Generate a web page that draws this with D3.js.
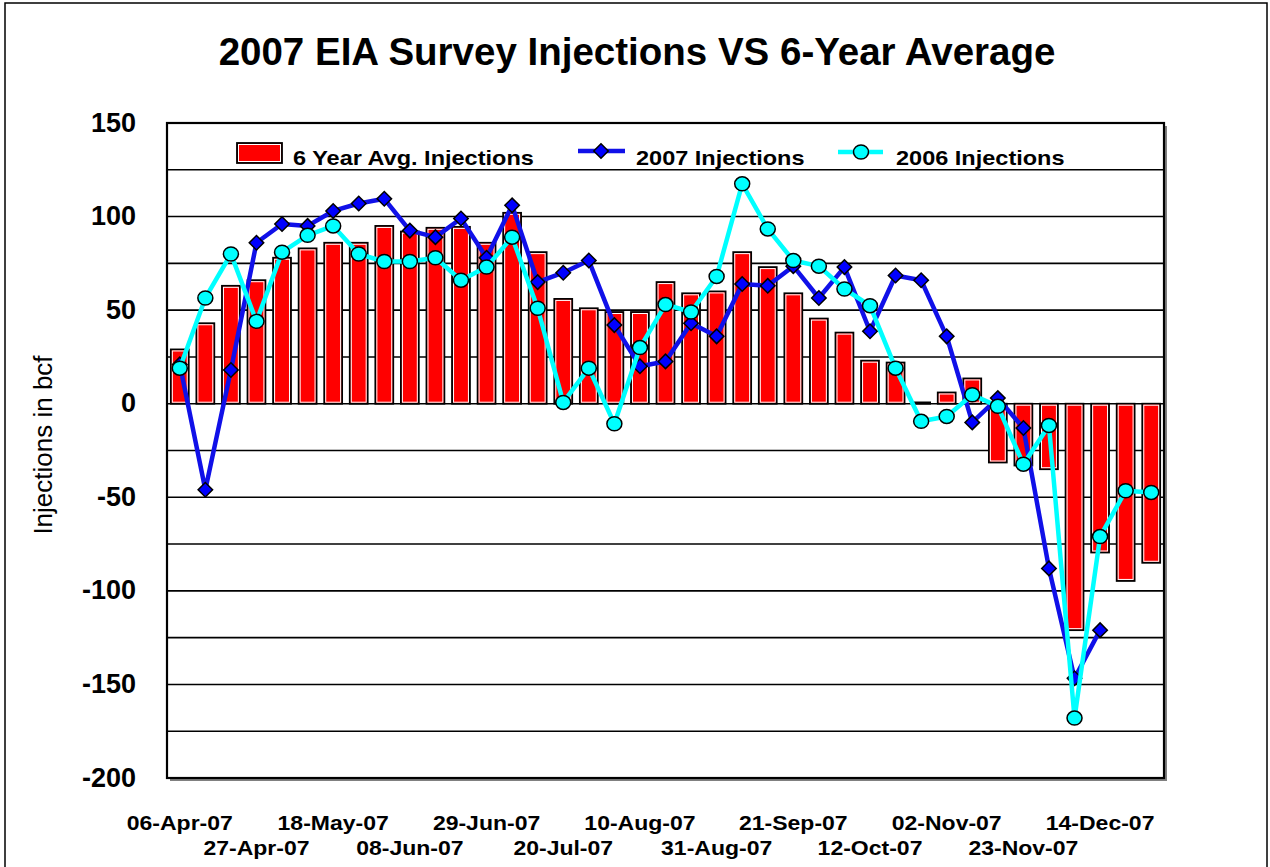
<!DOCTYPE html>
<html>
<head>
<meta charset="utf-8">
<script src="https://cdn.jsdelivr.net/npm/d3@7"></script>
<style>
  body { margin: 0; background: #fff; }
  text { font-family: "Liberation Sans", Arial, sans-serif; }
</style>
</head>
<body>
<script>
// weekly EIA storage report dates
var weeks = ["06-Apr-07","13-Apr-07","20-Apr-07","27-Apr-07","04-May-07","11-May-07","18-May-07",
  "25-May-07","01-Jun-07","08-Jun-07","15-Jun-07","22-Jun-07","29-Jun-07","06-Jul-07","13-Jul-07",
  "20-Jul-07","27-Jul-07","03-Aug-07","10-Aug-07","17-Aug-07","24-Aug-07","31-Aug-07","07-Sep-07",
  "14-Sep-07","21-Sep-07","28-Sep-07","05-Oct-07","12-Oct-07","19-Oct-07","26-Oct-07","02-Nov-07",
  "09-Nov-07","16-Nov-07","23-Nov-07","30-Nov-07","07-Dec-07","14-Dec-07","21-Dec-07","28-Dec-07"];

var avg6yr = [29,43,63,66,78,83,86,86,95,92,94,94.5,86,102,81,56,51,49,49,65,59,60,81,73,59,
  45.5,38,23,22,0.7,6,13.5,-31.4,-33,-35,-121,-79.5,-94.7,-85];

var inj2007 = [21,-46,18,86,96,95,103,107,109.5,92.5,89,99,78,106,65,70,76.5,42,20,22.6,43,36,
  64,63,73.5,56.5,73,38.7,68.5,66,36,-10,3,-13,-88,-146.7,-121,null,null];

var inj2006 = [19,56.5,80,44,81,90,95,80,76,76,78,66,73,89,51,0.7,19,-10.7,30,53,49,68,117.5,
  93.4,76.5,73.5,61.3,52.4,19,-9.4,-6.8,4.8,-1.4,-32.3,-11.6,-168,-71,-46.5,-47.4];

var yTicks = [-200,-150,-100,-50,0,50,100,150];
var gridVals = [-175,-150,-125,-100,-75,-50,-25,0,25,50,75,100,125];

var margin = {top: 123, right: 106, bottom: 89, left: 167},
  width = 1270 - margin.left - margin.right,
  height = 867 - margin.top - margin.bottom;

var svg = d3.select("body").append("svg")
  .attr("width", 1270)
  .attr("height", 867);

// outer chart border
svg.append("rect")
  .attr("x", 5).attr("y", 3)
  .attr("width", 1262).attr("height", 900)
  .attr("fill", "#fff")
  .attr("stroke", "#000")
  .attr("stroke-width", 1.5);

svg.append("text")
  .attr("x", 637).attr("y", 65)
  .attr("text-anchor", "middle")
  .attr("font-size", 38.5)
  .attr("font-weight", "bold")
  .text("2007 EIA Survey Injections VS 6-Year Average");

svg.append("text")
  .attr("transform", "translate(52,445) rotate(-90)")
  .attr("text-anchor", "middle")
  .attr("font-size", 26)
  .text("Injections in bcf");

var g = svg.append("g")
  .attr("transform", "translate(" + margin.left + "," + margin.top + ")");

var x = d3.scaleBand().domain(weeks).range([0, width]).paddingInner(0.3).paddingOuter(0.15);
var xc = function(d){ return x(d) + x.bandwidth() / 2; };
var y = d3.scaleLinear().domain([-200, 150]).range([height, 0]);

// plot area with shadow
g.append("rect")
  .attr("x", 3).attr("y", 3)
  .attr("width", width).attr("height", height)
  .attr("fill", "#808080");
g.append("rect")
  .attr("width", width).attr("height", height)
  .attr("fill", "#fff");

g.selectAll(".grid")
  .data(gridVals)
  .enter().append("line")
  .attr("x1", 0).attr("x2", width)
  .attr("y1", function(d){ return y(d); })
  .attr("y2", function(d){ return y(d); })
  .attr("stroke", "#000")
  .attr("stroke-width", 1.6);

// 6 year average bars
var bars = g.selectAll(".bar")
  .data(avg6yr)
  .enter().append("g");

bars.append("rect")
  .attr("x", function(d, i){ return x(weeks[i]); })
  .attr("y", function(d){ return y(Math.max(0, d)); })
  .attr("width", x.bandwidth())
  .attr("height", function(d){ return Math.abs(y(d) - y(0)); })
  .attr("fill", "#ff0000")
  .attr("stroke", "#000")
  .attr("stroke-width", 1.8);

bars.append("rect")
  .attr("x", function(d, i){ return x(weeks[i]) + 1.5; })
  .attr("y", function(d){ return y(Math.max(0, d)) + 1.5; })
  .attr("width", x.bandwidth() - 3)
  .attr("height", function(d){ return Math.max(0, Math.abs(y(d) - y(0)) - 3); })
  .attr("fill", "none")
  .attr("stroke", "#fff")
  .attr("stroke-width", 1);

var lineFun = d3.line()
  .defined(function(d){ return d != null; })
  .x(function(d, i){ return xc(weeks[i]); })
  .y(function(d){ return y(d); });

var diamond = d3.symbol().type(d3.symbolSquare).size(105);

// 2007 series
g.append("path")
  .datum(inj2007)
  .attr("d", lineFun)
  .attr("fill", "none")
  .attr("stroke", "#1010e8")
  .attr("stroke-width", 4.5)
  .attr("stroke-linejoin", "round");

g.selectAll(".d2007")
  .data(inj2007.map(function(v, i){ return {v: v, w: weeks[i]}; }).filter(function(d){ return d.v != null; }))
  .enter().append("path")
  .attr("d", diamond)
  .attr("transform", function(d){ return "translate(" + xc(d.w) + "," + y(d.v) + ") rotate(45)"; })
  .attr("fill", "#0000ff")
  .attr("stroke", "#000")
  .attr("stroke-width", 1.5);

// 2006 series
g.append("path")
  .datum(inj2006)
  .attr("d", lineFun)
  .attr("fill", "none")
  .attr("stroke", "#00ffff")
  .attr("stroke-width", 4.5)
  .attr("stroke-linejoin", "round");

g.selectAll(".d2006")
  .data(inj2006)
  .enter().append("ellipse")
  .attr("cx", function(d, i){ return xc(weeks[i]); })
  .attr("cy", function(d){ return y(d); })
  .attr("rx", 7.5).attr("ry", 7)
  .attr("fill", "#00ffff")
  .attr("stroke", "#000")
  .attr("stroke-width", 1.5);

// plot border
g.append("rect")
  .attr("width", width).attr("height", height)
  .attr("fill", "none")
  .attr("stroke", "#000")
  .attr("stroke-width", 2.2);

// Y axis labels (plain hyphen minus, as in the original)
var yAxis = g.append("g")
  .call(d3.axisLeft(y).tickValues(yTicks).tickSize(0).tickPadding(31)
    .tickFormat(function(d){ return String(d); }));
yAxis.select(".domain").remove();
yAxis.selectAll("text")
  .attr("dy", "0.3em")
  .attr("font-size", 27)
  .attr("font-weight", "bold")
  .attr("fill", "#000")
  .style("font-family", "'Liberation Sans', Arial, sans-serif");

// X axis labels, every third week in two staggered rows
var xTickVals = weeks.filter(function(d, i){ return i % 3 === 0; });
var xAxis = g.append("g")
  .attr("transform", "translate(0," + height + ")")
  .call(d3.axisBottom(x).tickValues(xTickVals).tickSize(0));
xAxis.select(".domain").remove();
xAxis.selectAll("text")
  .attr("y", function(d){ return xTickVals.indexOf(d) % 2 === 0 ? 52 : 77; })
  .attr("dy", 0)
  .attr("transform", "scale(1.15,1)")
  .attr("font-size", 20)
  .attr("font-weight", "bold")
  .attr("fill", "#000")
  .style("font-family", "'Liberation Sans', Arial, sans-serif");

// legend
var lg = svg.append("g");
lg.append("rect")
  .attr("x", 237).attr("y", 143).attr("width", 45).attr("height", 20)
  .attr("fill", "#ff0000").attr("stroke", "#000").attr("stroke-width", 1.8);
lg.append("rect")
  .attr("x", 238.5).attr("y", 144.5).attr("width", 42).attr("height", 17)
  .attr("fill", "none").attr("stroke", "#fff").attr("stroke-width", 1);
lg.append("line")
  .attr("x1", 578).attr("x2", 625).attr("y1", 151).attr("y2", 151)
  .attr("stroke", "#1010e8").attr("stroke-width", 4.5);
lg.append("path")
  .attr("d", diamond)
  .attr("transform", "translate(601,151) rotate(45)")
  .attr("fill", "#0000ff").attr("stroke", "#000").attr("stroke-width", 1.5);
lg.append("line")
  .attr("x1", 838).attr("x2", 883).attr("y1", 152).attr("y2", 152)
  .attr("stroke", "#00ffff").attr("stroke-width", 4.5);
lg.append("ellipse")
  .attr("cx", 861).attr("cy", 152).attr("rx", 7.5).attr("ry", 7)
  .attr("fill", "#00ffff").attr("stroke", "#000").attr("stroke-width", 1.5);

var legendText = [["6 Year Avg. Injections", 293], ["2007 Injections", 636], ["2006 Injections", 896]];
legendText.forEach(function(t){
  lg.append("text")
    .attr("transform", "translate(" + t[1] + ",165) scale(1.12,1)")
    .attr("font-size", 21)
    .attr("font-weight", "bold")
    .text(t[0]);
});
</script>
</body>
</html>
